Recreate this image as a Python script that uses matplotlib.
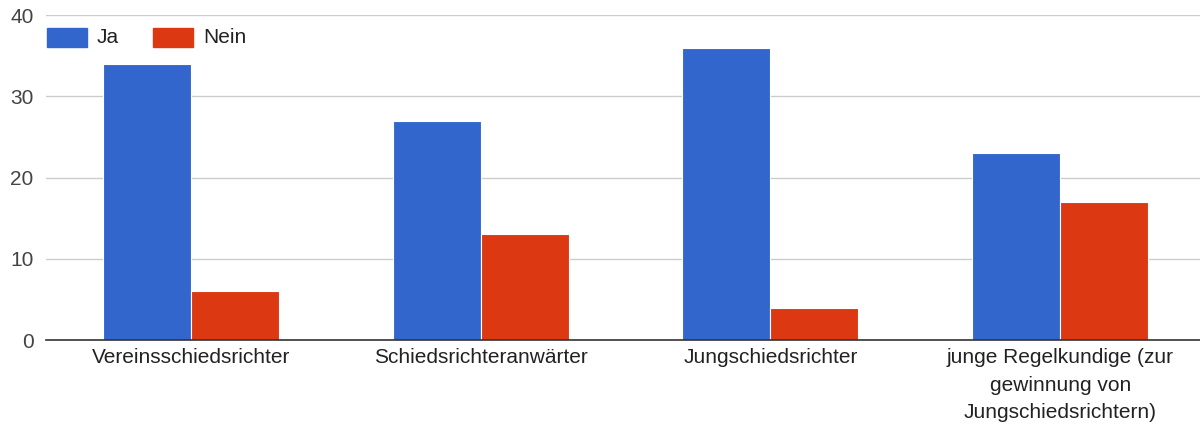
import matplotlib
matplotlib.use("Agg")
import matplotlib.pyplot as plt
import numpy as np
from matplotlib.patches import Rectangle

categories = ["Vereinsschiedsrichter", "Schiedsrichteranwärter", "Jungschiedsrichter",
              "junge Regelkundige (zur\ngewinnung von\nJungschiedsrichtern)"]
ja = [34, 27, 36, 23]
nein = [6, 13, 4, 17]
yticks = [0, 10, 20, 30, 40]

plt.rcParams['font.family'] = ['Liberation Sans', 'DejaVu Sans']

fig = plt.figure(figsize=(12, 4.25), dpi=100)
ax = fig.add_axes([46/1200, (425-340)/425, (1205-46)/1200, (340-15)/425])

x = np.arange(len(categories))
w = 0.304
blue = '#3366CC'
red = '#DC3912'
ax.bar(x - w/2, ja, width=w, color=blue, edgecolor='white', linewidth=0.8, zorder=3, label='Ja')
ax.bar(x + w/2, nein, width=w, color=red, edgecolor='white', linewidth=0.8, zorder=3, label='Nein')

fs = 15
ax.set_ylim(0, 40)
ax.set_yticks(yticks)
ax.set_yticklabels([str(t) for t in yticks])
ax.set_xticks(x)
ax.set_xticklabels(categories, linespacing=1.55)
ax.tick_params(axis='both', length=0, labelsize=fs, colors='#222222')
ax.tick_params(axis='y', pad=9, labelcolor='#444444')
ax.tick_params(axis='x', pad=6)
ax.grid(axis='y', color='#cccccc', linewidth=1, zorder=0)
for s in ['top', 'right', 'left']:
    ax.spines[s].set_visible(False)
ax.spines['bottom'].set_color('#333333')
ax.spines['bottom'].set_linewidth(1.2)
ax.spines['bottom'].set_zorder(4)
ax.set_xlim(-0.5, 3.5)

for (x0, lab, col) in [(47, 'Ja', blue), (153, 'Nein', red)]:
    fig.patches.append(Rectangle((x0/1200, (425-47)/425), 40/1200, 19/425,
                                 transform=fig.transFigure, color=col, zorder=5))
    fig.text((x0+50)/1200, (425-37.5)/425, lab, fontsize=fs, color='#222222',
             va='center', ha='left')

fig.savefig('out.png', dpi=100)
